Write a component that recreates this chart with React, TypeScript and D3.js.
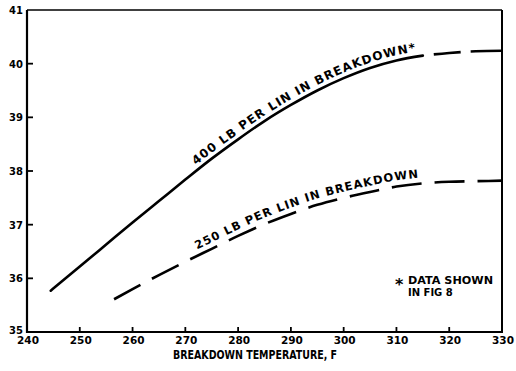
import React from "react";
import * as d3 from "d3";

const xTicks = [240, 250, 260, 270, 280, 290, 300, 310, 320, 330];
const yTicks = [35, 36, 37, 38, 39, 40, 41];

// 400 LB per lin in breakdown (solid part, then dashed extrapolation)
const temps400 = [244.5, 250, 255, 260, 265, 270, 275, 280, 285, 290, 295, 300, 305, 310, 315];
const values400 = [35.77, 36.22, 36.63, 37.04, 37.44, 37.84, 38.23, 38.59, 38.93, 39.23, 39.5, 39.73, 39.92, 40.06, 40.15];
const tempsExt400 = [315, 320, 325, 330];
const valuesExt400 = [40.15, 40.2, 40.23, 40.24];

// 250 LB per lin in breakdown (dashed)
const temps250 = [256.5, 260, 265, 270, 275, 280, 285, 290, 295, 300, 305, 310, 315, 320, 325, 330];
const values250 = [35.61, 35.8, 36.06, 36.31, 36.55, 36.79, 37.01, 37.2, 37.37, 37.5, 37.61, 37.71, 37.77, 37.8, 37.81, 37.82];

const label400 = "400 LB PER LIN IN BREAKDOWN*";
const label250 = "250 LB PER LIN IN BREAKDOWN";

const W = 516, H = 371;
const L = 27, R = 502, T = 10, B = 332;

export default function App() {
  const x = d3.scaleLinear().domain([240, 330]).range([L, R]);
  const y = d3.scaleLinear().domain([35, 41]).range([B, T]);
  const line = d3
    .line<[number, number]>()
    .x((d) => x(d[0]))
    .y((d) => y(d[1]))
    .curve(d3.curveMonotoneX);

  const p400 = temps400.map((t, i) => [t, values400[i]] as [number, number]);
  const pExt = tempsExt400.map((t, i) => [t, valuesExt400[i]] as [number, number]);
  const p250 = temps250.map((t, i) => [t, values250[i]] as [number, number]);

  const arcTo = (pts: [number, number][], px: number) => {
    let len = 0;
    for (let i = 1; i < pts.length; i++) {
      const x0 = x(pts[i - 1][0]), y0 = y(pts[i - 1][1]);
      const x1 = x(pts[i][0]), y1 = y(pts[i][1]);
      if (x1 >= px) {
        const f = (px - x0) / (x1 - x0);
        len += Math.hypot((x1 - x0) * f, (y1 - y0) * f);
        return len;
      }
      len += Math.hypot(x1 - x0, y1 - y0);
    }
    return len;
  };

  const font = "'DejaVu Sans', sans-serif";
  const cfont = "'DejaVu Sans Condensed', 'DejaVu Sans', sans-serif";
  const full400 = [...p400, ...pExt.slice(1)];

  return (
    <svg width={W} height={H} style={{ display: "block", position: "absolute", left: 0, top: 0 }}>
      <rect width={W} height={H} fill="#fff" />
      {/* frame */}
      <line x1={L} y1={T} x2={R} y2={T} stroke="#000" strokeWidth={1.5} />
      <line x1={R} y1={T} x2={R} y2={B} stroke="#000" strokeWidth={2} />
      <line x1={L} y1={T} x2={L} y2={B + 1} stroke="#000" strokeWidth={2.2} />
      <line x1={L - 1} y1={B} x2={R + 1} y2={B} stroke="#000" strokeWidth={2.2} />
      {/* ticks */}
      {xTicks.slice(1, -1).map((t) => (
        <line key={"xt" + t} x1={x(t)} x2={x(t)} y1={B} y2={B - 5} stroke="#000" strokeWidth={1.8} />
      ))}
      {yTicks.slice(1, -1).map((t) => (
        <line key={"yt" + t} x1={L} x2={L + 6} y1={y(t)} y2={y(t)} stroke="#000" strokeWidth={1.8} />
      ))}
      {xTicks.map((t) => (
        <text key={"xl" + t} x={x(t) + 1} y={344} textAnchor="middle" fontFamily={font} fontWeight="bold" fontSize={10.5} fill="#000">
          {t}
        </text>
      ))}
      {yTicks.map((t) => (
        <text key={"yl" + t} x={23} y={t === 35 ? y(t) + 2 : y(t) + 4} textAnchor="end" fontFamily={font} fontWeight="bold" fontSize={10} fill="#000">
          {t}
        </text>
      ))}
      <text x={173} y={359} fontFamily={cfont} fontWeight="bold" fontSize={13} fill="#000" textLength={164} lengthAdjust="spacingAndGlyphs">
        BREAKDOWN TEMPERATURE, F
      </text>

      {/* curves */}
      <path d={line(p400) ?? ""} fill="none" stroke="#000" strokeWidth={2.6} strokeLinecap="round" />
      <path d={line(pExt) ?? ""} fill="none" stroke="#000" strokeWidth={2.6} strokeDasharray="0 11 27 10 40" />
      <path d={line(p250) ?? ""} fill="none" stroke="#000" strokeWidth={2.6} strokeDasharray="30 13" />

      {/* curve labels */}
      <g transform="translate(-1,-5)">
        <path id="lab400" d={line(full400) ?? ""} fill="none" stroke="none" />
        <text fontFamily={font} fontWeight="bold" fontSize={12} fill="#000">
          <textPath href="#lab400" startOffset={arcTo(full400, 197)} textLength={250} lengthAdjust="spacing">
            {label400}
          </textPath>
        </text>
      </g>
      <g transform="translate(-1,-6)">
        <path id="lab250" d={line(p250) ?? ""} fill="none" stroke="none" />
        <text fontFamily={font} fontWeight="bold" fontSize={11.5} fill="#000">
          <textPath href="#lab250" startOffset={arcTo(p250, 198)} textLength={234} lengthAdjust="spacing">
            {label250}
          </textPath>
        </text>
      </g>

      {/* footnote */}
      <text x={395} y={290} fontFamily={font} fontWeight="bold" fontSize={16} fill="#000">*</text>
      <text x={408} y={284} fontFamily={font} fontWeight="bold" fontSize={10} fill="#000" textLength={85} lengthAdjust="spacingAndGlyphs">DATA SHOWN</text>
      <text x={408} y={296} fontFamily={font} fontWeight="bold" fontSize={10} fill="#000">IN FIG 8</text>
    </svg>
  );
}
